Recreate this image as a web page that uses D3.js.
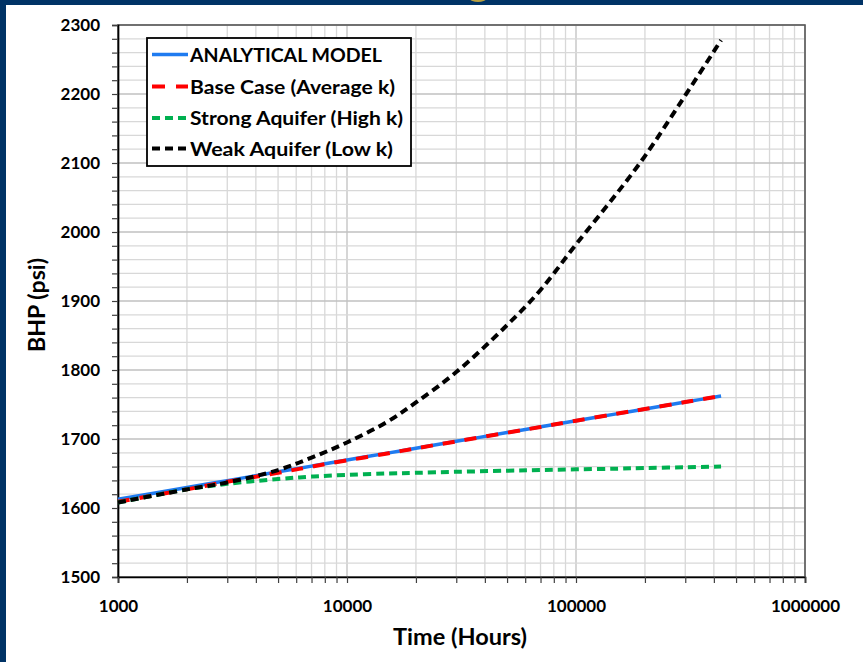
<!DOCTYPE html>
<html>
<head>
<meta charset="utf-8">
<script src="https://cdn.jsdelivr.net/npm/d3@7"></script>
<style>
  html, body { margin: 0; padding: 0; background: #ffffff; }
  svg { display: block; }
  text { font-family: Lato, "Open Sans", sans-serif; font-weight: 700; fill: #000; }
</style>
</head>
<body>
<svg id="chart" width="863" height="662"></svg>
<script>
// ---- data ----
const times = [1000, 2000, 3000, 5000, 7000, 10000, 15000, 20000, 30000, 50000, 70000, 100000, 150000, 200000, 300000, 430000];
const analytical = [1612.6, 1629.7, 1639.7, 1652.4, 1660.7, 1669.5, 1679.5, 1686.6, 1696.6, 1709.3, 1717.6, 1726.4, 1736.4, 1743.5, 1753.5, 1762.4];
const baseCase   = [1609, 1627, 1638, 1651, 1660, 1669, 1679, 1686.5, 1696.5, 1709, 1717.5, 1726.5, 1736.5, 1743.5, 1753.5, 1762.5];
const strongAq   = [1608, 1627, 1635, 1642, 1645.5, 1648, 1650, 1651, 1652.5, 1654, 1655, 1656, 1657, 1658, 1659, 1660];
const weakAq     = [1608, 1627, 1637, 1655, 1673, 1695, 1725, 1753, 1797, 1865, 1916, 1982, 2055, 2110, 2198, 2278];
const seriesNames = ["ANALYTICAL MODEL", "Base Case (Average k)", "Strong Aquifer (High k)", "Weak Aquifer (Low k)"];
const xTickLabels = [1000, 10000, 100000, 1000000];
const yTickLabels = [1500, 1600, 1700, 1800, 1900, 2000, 2100, 2200, 2300];
const xTitle = "Time (Hours)";
const yTitle = "BHP (psi)";

// ---- drawing ----
const svg = d3.select("#chart");
const W = 863, H = 662;

svg.append("rect").attr("x", 0).attr("y", 0).attr("width", W).attr("height", H).attr("fill", "#003366");
svg.append("rect").attr("x", 6).attr("y", 5).attr("width", W - 6).attr("height", H - 5).attr("fill", "#ffffff");
svg.append("ellipse").attr("cx", 478).attr("cy", -1).attr("rx", 8).attr("ry", 3).attr("fill", "#b8a040");

const L = 118, R = 805, T = 25, B = 577;
const x = d3.scaleLog().domain([1000, 1000000]).range([L, R]);
const y = d3.scaleLinear().domain([1500, 2300]).range([B, T]);

const xMinor = [];
for (let d = 1000; d < 1000000; d *= 10) for (let k = 1; k <= 9; k++) xMinor.push(d * k);
xMinor.push(1000000);
const yMinor = d3.range(1500, 2301, 20);

const grid = svg.append("g");
grid.selectAll("line.vx").data(xMinor).join("line")
  .attr("x1", d => x(d)).attr("x2", d => x(d)).attr("y1", T).attr("y2", B)
  .attr("stroke", d => xTickLabels.includes(d) ? "#c0c0c0" : "#d8d8d8").attr("stroke-width", 1.3);
grid.selectAll("line.hy").data(yMinor).join("line")
  .attr("x1", L).attr("x2", R).attr("y1", d => y(d)).attr("y2", d => y(d))
  .attr("stroke", d => d % 100 === 0 ? "#c0c0c0" : "#d8d8d8").attr("stroke-width", 1.3);

svg.append("rect").attr("x", L).attr("y", T).attr("width", R - L).attr("height", B - T)
  .attr("fill", "none").attr("stroke", "#595959").attr("stroke-width", 1.6);

const yAxis = d3.axisLeft(y).tickValues(yMinor)
  .tickFormat(d => yTickLabels.includes(d) ? String(d) : "")
  .tickSize(6).tickPadding(12);
const gy = svg.append("g").attr("transform", `translate(${L},0)`).call(yAxis);
gy.select(".domain").attr("stroke", "#000").attr("stroke-width", 1.7);
gy.selectAll(".tick line").attr("stroke", "#404040").attr("stroke-width", 1.2);
gy.selectAll(".tick text").attr("font-size", 17).attr("font-family", "Lato").attr("font-weight", 700).attr("fill", "#000");

const xAxis = d3.axisBottom(x).tickValues(xMinor)
  .tickFormat(d => xTickLabels.includes(d) ? String(d) : "")
  .tickSize(6).tickPadding(17);
const gx = svg.append("g").attr("transform", `translate(0,${B})`).call(xAxis);
gx.select(".domain").attr("stroke", "#000").attr("stroke-width", 1.7);
gx.selectAll(".tick line").attr("stroke", "#404040").attr("stroke-width", 1.2);
gx.selectAll(".tick text").attr("font-size", 17).attr("font-family", "Lato").attr("font-weight", 700).attr("fill", "#000");

svg.append("text").attr("x", 460).attr("y", 645).attr("text-anchor", "middle")
  .attr("font-size", 23).attr("textLength", 134).attr("lengthAdjust", "spacingAndGlyphs").text(xTitle);
svg.append("text").attr("transform", "translate(45,305) rotate(-90)").attr("text-anchor", "middle")
  .attr("font-size", 22).attr("textLength", 94).attr("lengthAdjust", "spacingAndGlyphs").text(yTitle);

const series = [
  { name: seriesNames[0], vals: analytical, color: "#1F7BF0", width: 3.5, dash: null,    legW: 192 },
  { name: seriesNames[1], vals: baseCase,   color: "#FF0000", width: 4,   dash: "12,10", legW: 205 },
  { name: seriesNames[2], vals: strongAq,   color: "#00B050", width: 4,   dash: "8,5",   legW: 213 },
  { name: seriesNames[3], vals: weakAq,     color: "#000000", width: 4,   dash: "8,5",   legW: 203 }
];
const line = d3.line().x(d => x(d[0])).y(d => y(d[1])).curve(d3.curveCatmullRom.alpha(0.5));
const gl = svg.append("g");
series.forEach(s => {
  gl.append("path").datum(times.map((t, i) => [t, s.vals[i]]))
    .attr("d", line).attr("fill", "none")
    .attr("stroke", s.color).attr("stroke-width", s.width)
    .attr("stroke-dasharray", s.dash);
});

const lg = svg.append("g");
lg.append("rect").attr("x", 147).attr("y", 38).attr("width", 264).attr("height", 128)
  .attr("fill", "#fff").attr("stroke", "#000").attr("stroke-width", 1.8);
const rowY = [54.5, 86.5, 118, 148.5];
series.forEach((s, i) => {
  lg.append("line").attr("x1", 152).attr("x2", 188).attr("y1", rowY[i]).attr("y2", rowY[i])
    .attr("stroke", s.color).attr("stroke-width", s.width)
    .attr("stroke-dasharray", i === 1 ? "13,11" : s.dash);
  lg.append("text").attr("x", 190).attr("y", rowY[i] + 7).attr("font-size", 19.5)
    .attr("textLength", s.legW).attr("lengthAdjust", "spacingAndGlyphs").text(s.name);
});
</script>
</body>
</html>
